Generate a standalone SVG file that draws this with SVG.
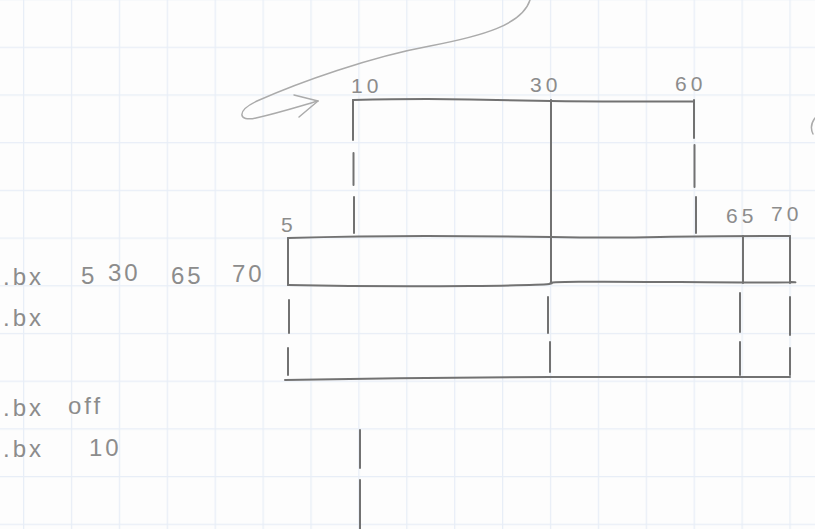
<svg xmlns="http://www.w3.org/2000/svg" width="815" height="529" viewBox="0 0 815 529">
<defs>
<pattern id="grid" x="23" y="-1" width="47.9" height="47.7" patternUnits="userSpaceOnUse">
<rect width="47.9" height="47.7" fill="#fdfdfd"/>
<path d="M0.5 0V47.7M0 0.5H47.9" stroke="#e8eef7" stroke-width="1.5" fill="none"/>
</pattern>
<style>
.pen{fill:none;stroke:#727272;stroke-width:2;stroke-linecap:round;stroke-linejoin:round}
.soft{fill:none;stroke:#ababab;stroke-width:1.5;stroke-linecap:round;stroke-linejoin:round}
.lbl{font-family:"Liberation Sans","DejaVu Sans",sans-serif;fill:#8c8c8c;font-size:21px;letter-spacing:4px}
.cmd{font-family:"Liberation Sans","DejaVu Sans",sans-serif;fill:#8c8c8c;font-size:24px;letter-spacing:3px}
</style>
</defs>
<rect width="815" height="529" fill="url(#grid)"/>

<g id="connectors">
<path class="soft" d="M530 0 C522 25 482 36 430 46 C370 57 300 82 257 101 C236 111 238 122 256 118 C282 112 300 106 318 101"/>
<path class="soft" d="M294 95 L318 101 L299 117"/>
</g>

<g id="box-top">
<path class="pen" d="M353 100 Q420 98.5 470 99.5 T551 101 T694 101.5"/>
<path class="pen" d="M353 100V140M353.5 153V185M354 197V233"/>
<path class="pen" d="M551 100V237"/>
<path class="pen" d="M694 100V138M694.5 145V187M696 197V233"/>
<text class="lbl" x="351" y="93">10</text>
<text class="lbl" x="530" y="92">30</text>
<text class="lbl" x="675" y="91">60</text>
</g>

<g id="box-middle">
<path class="pen" d="M288 238 Q360 236 426 236 T551 237 T660 237 T790 236"/>
<path class="pen" d="M288 285 Q380 287 470 286 T551 283 T680 282 T791 282"/>
<path class="pen" d="M288 238V285M551 237V283M743 236V283M790 236V283"/>
<path class="pen" d="M289 300V333M548 297V333M740 293V332M790 297V335"/>
<path class="pen" d="M288 348V375M550 342V372M740 342V375M790 348V375"/>
<path class="pen" d="M285 380 Q420 377.5 551 377 T790 377"/>
<text class="lbl" x="281" y="232">5</text>
<text class="lbl" x="726" y="223">65</text>
<text class="lbl" x="771" y="221">70</text>
</g>

<g id="marker-10">
<path class="pen" d="M360 430V468M360 480V529"/>
</g>

<g id="commands">
<text class="cmd" x="3" y="285">.bx</text>
<text class="cmd" x="81" y="284">5</text>
<text class="cmd" x="108" y="281">30</text>
<text class="cmd" x="171" y="284">65</text>
<text class="cmd" x="232" y="282">70</text>
<text class="cmd" x="3" y="326">.bx</text>
<text class="cmd" x="3" y="416">.bx</text>
<text class="cmd" x="68" y="414">off</text>
<text class="cmd" x="3" y="457">.bx</text>
<text class="cmd" x="89" y="456">10</text>
</g>

<path class="soft" d="M815 118 Q809 126 813 134"/>
</svg>
